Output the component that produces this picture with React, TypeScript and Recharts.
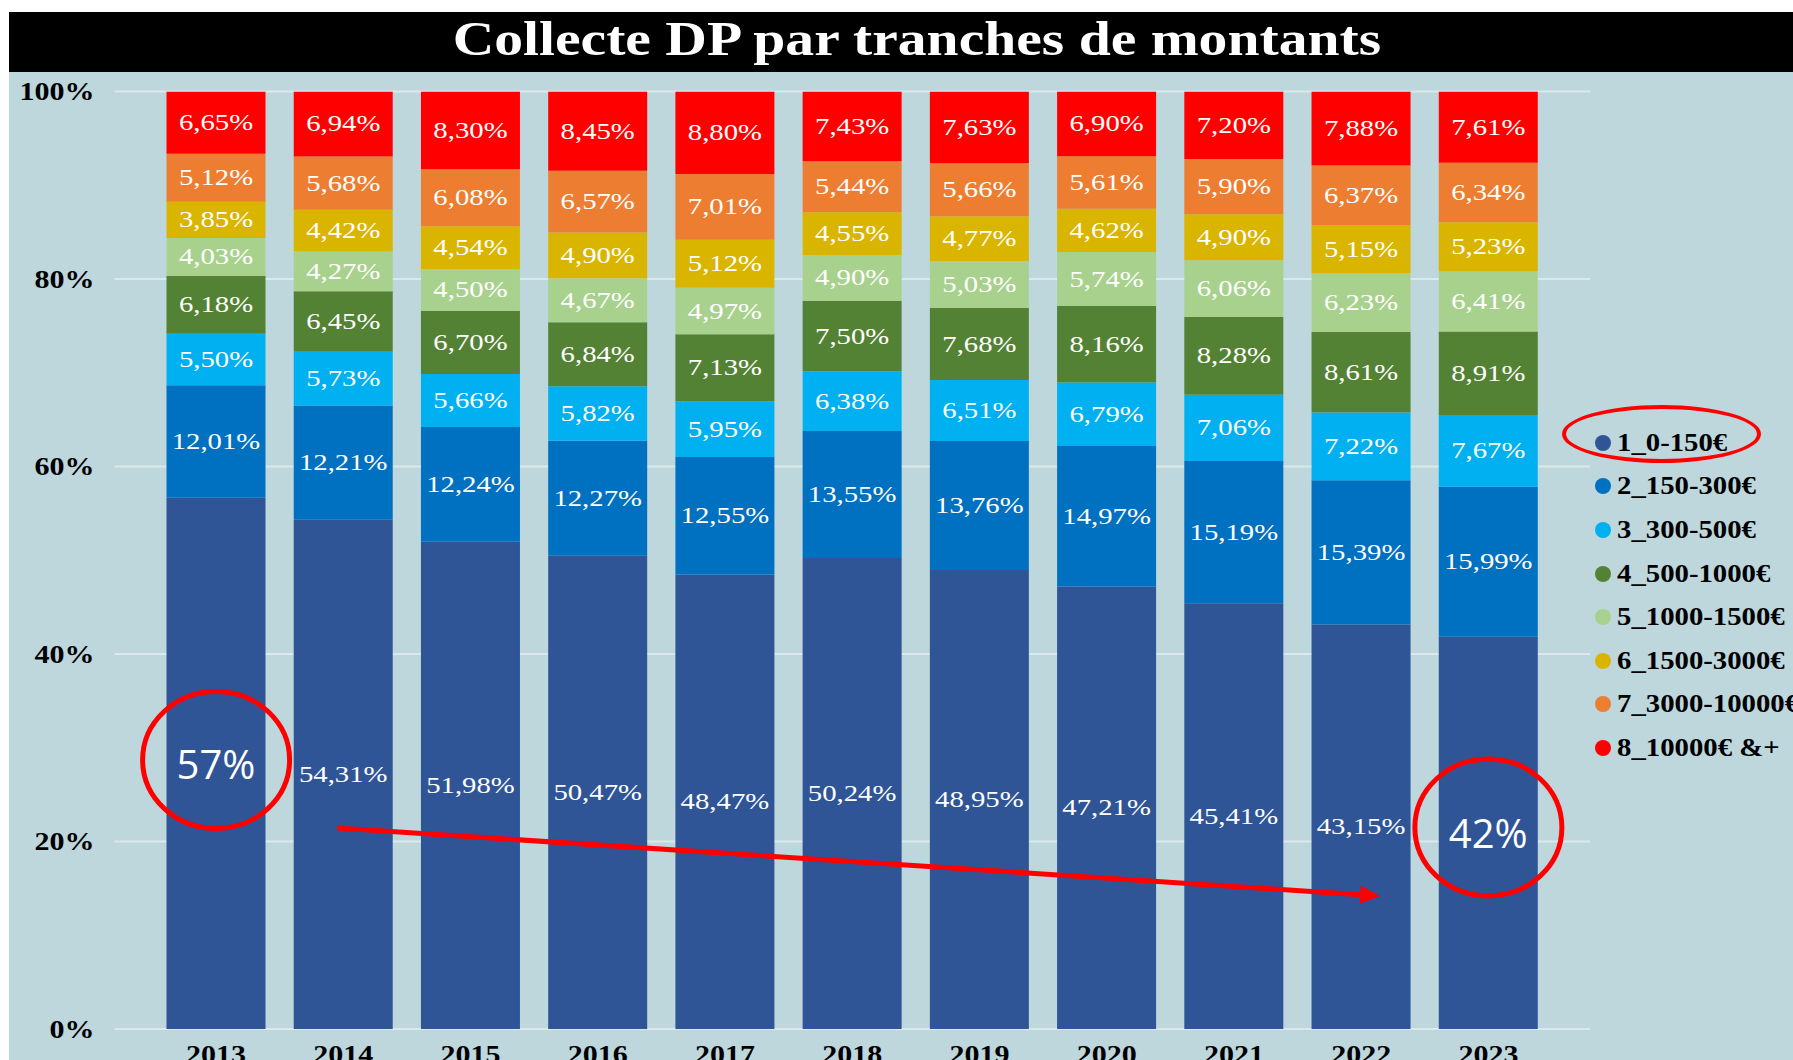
import React from "react";
import {
  BarChart,
  Bar,
  XAxis,
  YAxis,
  CartesianGrid,
  Legend,
  LabelList,
  ReferenceDot,
  ReferenceLine,
} from "recharts";

const years = ["2013", "2014", "2015", "2016", "2017", "2018", "2019", "2020", "2021", "2022", "2023"];

const s1 = [56.66, 54.31, 51.98, 50.47, 48.47, 50.24, 48.95, 47.21, 45.41, 43.15, 41.84];
const s2 = [12.01, 12.21, 12.24, 12.27, 12.55, 13.55, 13.76, 14.97, 15.19, 15.39, 15.99];
const s3 = [5.5, 5.73, 5.66, 5.82, 5.95, 6.38, 6.51, 6.79, 7.06, 7.22, 7.67];
const s4 = [6.18, 6.45, 6.7, 6.84, 7.13, 7.5, 7.68, 8.16, 8.28, 8.61, 8.91];
const s5 = [4.03, 4.27, 4.5, 4.67, 4.97, 4.9, 5.03, 5.74, 6.06, 6.23, 6.41];
const s6 = [3.85, 4.42, 4.54, 4.9, 5.12, 4.55, 4.77, 4.62, 4.9, 5.15, 5.23];
const s7 = [5.12, 5.68, 6.08, 6.57, 7.01, 5.44, 5.66, 5.61, 5.9, 6.37, 6.34];
const s8 = [6.65, 6.94, 8.3, 8.45, 8.8, 7.43, 7.63, 6.9, 7.2, 7.88, 7.61];

const seriesValues = [s1, s2, s3, s4, s5, s6, s7, s8];
const seriesKeys = ["t1", "t2", "t3", "t4", "t5", "t6", "t7", "t8"];
const seriesNames = [
  "1_0-150€",
  "2_150-300€",
  "3_300-500€",
  "4_500-1000€",
  "5_1000-1500€",
  "6_1500-3000€",
  "7_3000-10000€",
  "8_10000€ &+",
];
const seriesColors = ["#2F5597", "#0070C0", "#00B0F0", "#548235", "#A9D18E", "#DAB500", "#ED7D31", "#FF0000"];

const yTicks = [0, 20, 40, 60, 80, 100];

// annotations drawn on top of the chart
const circledYears = ["2013", "2023"];
const circleCenters = [28.7, 21.5];
const trendStart = { year: "2014", value: 21.44 };
const trendEnd = { year: "2022", value: 14.19 };

const SERIF = '"Liberation Serif", "Times New Roman", serif';
const BG = "#BDD7DC";

const fmt = (v: number) => v.toFixed(2).replace(".", ",") + "%";

const data = years.map((year, i) => {
  const row: Record<string, string | number> = { year };
  seriesKeys.forEach((k, j) => {
    row[k] = seriesValues[j][i];
  });
  row.label1 = circledYears.includes(year) ? `${Math.round(s1[i])}%` : fmt(s1[i]);
  return row;
});

function segLabel(props: any) {
  const vb = props.viewBox || props;
  const cx = vb.x + vb.width / 2;
  const cy = vb.y + vb.height / 2;
  const text = typeof props.value === "number" ? fmt(props.value) : String(props.value);
  if (!text.includes(",")) {
    return (
      <text
        x={cx}
        y={cy}
        textAnchor="middle"
        dominantBaseline="central"
        fill="#fff"
        fontFamily='"Open Sans", sans-serif'
        fontSize={40}
      >
        {text}
      </text>
    );
  }
  return (
    <text
      transform={`translate(${cx} ${cy}) scale(1.25 1)`}
      textAnchor="middle"
      dominantBaseline="central"
      fill="#fff"
      fontFamily={SERIF}
      fontSize={23}
    >
      {text}
    </text>
  );
}

function YTick(p: any) {
  return (
    <text
      transform={`translate(${p.x} ${p.y}) scale(1.2 1)`}
      textAnchor="end"
      dominantBaseline="central"
      fontFamily={SERIF}
      fontWeight="bold"
      fontSize={25}
      fill="#000"
    >
      {p.payload.value}%
    </text>
  );
}

function XTick(p: any) {
  return (
    <text
      transform={`translate(${p.x} ${p.y + 12}) scale(1.2 1)`}
      textAnchor="middle"
      dominantBaseline="central"
      fontFamily={SERIF}
      fontWeight="bold"
      fontSize={25}
      fill="#000"
    >
      {p.payload.value}
    </text>
  );
}

function TrendArrow(p: any) {
  const x1 = p.x1 - 6;
  const y1 = p.y1;
  const x2 = p.x2 + 19;
  const y2 = p.y2;
  const ang = Math.atan2(y2 - y1, x2 - x1);
  const len = 20;
  const half = 9;
  const bx = x2 - len * Math.cos(ang);
  const by = y2 - len * Math.sin(ang);
  const px = -Math.sin(ang) * half;
  const py = Math.cos(ang) * half;
  return (
    <g>
      <line x1={x1} y1={y1} x2={bx} y2={by} stroke="#FF0000" strokeWidth={5} />
      <polygon points={`${x2},${y2} ${bx + px},${by + py} ${bx - px},${by - py}`} fill="#FF0000" />
    </g>
  );
}

function LegendBox(props: any) {
  const items = props.payload || [];
  return (
    <div style={{ position: "relative", whiteSpace: "nowrap" }}>
      <div
        style={{
          position: "absolute",
          left: -32,
          top: -16,
          width: 199,
          height: 58,
          borderRadius: "50%",
          border: "4px solid #FF0000",
          boxSizing: "border-box",
        }}
      />
      {items.map((it: any) => (
        <div key={it.value} style={{ height: 43.6, display: "flex", alignItems: "center" }}>
          <span
            style={{
              display: "inline-block",
              width: 16,
              height: 16,
              borderRadius: "50%",
              background: it.color,
              marginLeft: 1,
              marginRight: 6,
            }}
          />
          <span
            style={{
              display: "inline-block",
              transform: "scaleX(1.15)",
              transformOrigin: "left center",
              fontFamily: SERIF,
              fontWeight: "bold",
              fontSize: 25,
              color: "#000",
            }}
          >
            {it.value}
          </span>
        </div>
      ))}
    </div>
  );
}

export default function App() {
  return (
    <div
      style={{
        position: "absolute",
        left: 9,
        top: 12,
        width: 1784,
        height: 1048,
        overflow: "hidden",
        background: BG,
      }}
    >
      <div
        style={{
          height: 60,
          background: "#000",
          color: "#fff",
          textAlign: "center",
          lineHeight: "54px",
          paddingLeft: 32,
        }}
      >
        <span
          style={{
            display: "inline-block",
            transform: "scaleX(1.2)",
            fontFamily: SERIF,
            fontWeight: "bold",
            fontSize: 48,
          }}
        >
          Collecte DP par tranches de montants
        </span>
      </div>
      <BarChart
        width={1784}
        height={1010}
        data={data}
        margin={{ top: 19.5, right: 203, bottom: 13, left: 0 }}
        barCategoryGap={14}
      >
        <CartesianGrid vertical={false} stroke="#DCE9EC" strokeWidth={2} />
        <XAxis
          dataKey="year"
          padding={{ left: 38, right: 38 }}
          axisLine={false}
          tickLine={false}
          tickSize={0}
          tickMargin={13}
          height={40}
          interval={0}
          tick={<XTick />}
        />
        <YAxis
          domain={[0, 100]}
          ticks={yTicks}
          allowDataOverflow
          width={105.5}
          axisLine={false}
          tickLine={false}
          tickSize={0}
          tickMargin={20}
          tick={<YTick />}
        />
        <Legend
          layout="vertical"
          align="center"
          verticalAlign="middle"
          wrapperStyle={{ left: 1585, top: 349, width: 260 }}
          content={<LegendBox />}
        />
        {seriesKeys.map((k, j) => (
          <Bar
            key={k}
            dataKey={k}
            name={seriesNames[j]}
            stackId="a"
            fill={seriesColors[j]}
            isAnimationActive={false}
          >
            <LabelList dataKey={j === 0 ? "label1" : k} content={segLabel} />
          </Bar>
        ))}
        {circledYears.map((y, i) => (
          <ReferenceDot
            key={y}
            x={y}
            y={circleCenters[i]}
            r={70}
            shape={(p: any) => (
              <ellipse cx={p.cx} cy={p.cy} rx={73.5} ry={68.5} fill="none" stroke="#FF0000" strokeWidth={5} />
            )}
          />
        ))}
        <ReferenceLine
          segment={[
            { x: trendStart.year, y: trendStart.value },
            { x: trendEnd.year, y: trendEnd.value },
          ]}
          shape={<TrendArrow />}
        />
      </BarChart>
    </div>
  );
}
